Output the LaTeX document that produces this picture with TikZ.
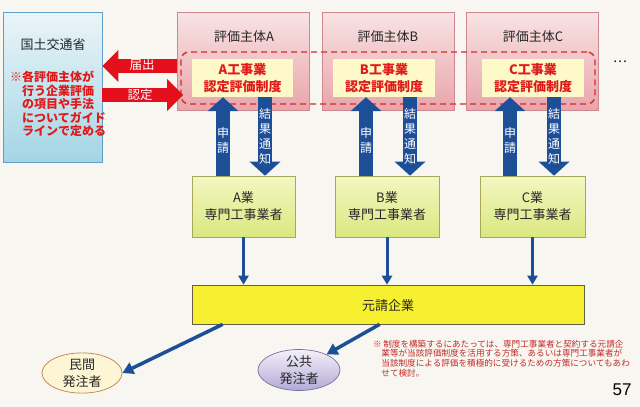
\documentclass[tikz,border=0pt]{standalone}
\usepackage{fontspec}
\setmainfont{Noto Sans CJK JP}
\newfontfamily\numfont{Liberation Sans}
\usetikzlibrary{arrows.meta,shapes.geometric}
\definecolor{bgc}{HTML}{F7F6F0}
\definecolor{mblue}{HTML}{1D4F99}
\definecolor{mred}{HTML}{E3101C}
\definecolor{tred}{HTML}{E01A1A}
\definecolor{nred}{HTML}{C42A2A}
\definecolor{dred}{HTML}{D42B2B}
\begin{document}
\begin{tikzpicture}[x=1pt,y=-1pt,
  ttl/.style={font=\fontsize{13}{17}\selectfont, text=black!85, inner sep=0pt, align=center},
  leftbox/.style={draw={rgb,255:red,96;green,160;blue,200}, line width=0.6pt, top color={rgb,255:red,234;green,245;blue,248}, bottom color={rgb,255:red,164;green,213;blue,229}, inner sep=0pt},
  evalbox/.style={draw={rgb,255:red,208;green,136;blue,144}, line width=0.6pt, top color={rgb,255:red,248;green,228;blue,228}, bottom color={rgb,255:red,233;green,164;blue,170}, inner sep=0pt, minimum width=132pt, minimum height=98pt},
  innerbox/.style={fill={rgb,255:red,253;green,249;blue,200}, inner sep=0pt, minimum height=38pt, align=center, text=tred, font=\bfseries\fontsize{13}{17}\selectfont},
  gyobox/.style={draw={rgb,255:red,168;green,168;blue,88}, line width=0.6pt, top color={rgb,255:red,243;green,247;blue,194}, bottom color={rgb,255:red,218;green,232;blue,128}, inner sep=0pt, minimum height=61pt, align=center, font=\fontsize{13}{17}\selectfont, text=black!85},
  bigblue/.style={draw=mblue, line width=13.5pt, -{Triangle[width=30pt,length=14pt]}},
  bigred/.style={draw=mred, line width=13.5pt, -{Triangle[width=31pt,length=16pt]}},
  thinblue/.style={draw=mblue, line width=3pt, -{Triangle[width=10pt,length=9pt]}},
  diagblue/.style={draw=mblue, line width=3.5pt, -{Triangle[width=12pt,length=11pt]}},
  vlab/.style={text=white, font=\fontsize{12}{15}\selectfont, align=center, inner sep=0pt},
  wlab/.style={text=white, font=\fontsize{12.5}{15}\selectfont, inner sep=0pt},
]
\fill[bgc] (0,0) rectangle (640,407);
\useasboundingbox (0,0) rectangle (640,407);

% left box
\node[leftbox, minimum width=99pt, minimum height=150pt] (mlit) at (52.5,87) {};
\node[ttl] (mlitt) at (53,45) {国土交通省};
\node[inner sep=0pt, anchor=west, align=left, text=tred, font=\bfseries\fontsize{12}{13.5}\selectfont] (mlitn) at (10,104)
  {※各評価主体が\\\hphantom{※}行う企業評価\\\hphantom{※}の項目や手法\\\hphantom{※}についてガイド\\\hphantom{※}ラインで定める};

% evaluation bodies
\node[evalbox] (evA) at (243.5,61) {};
\node[evalbox] (evB) at (388,61) {};
\node[evalbox] (evC) at (532.5,61) {};
\node[ttl] (evAt) at (244,37) {評価主体A};
\node[ttl] (evBt) at (388,37) {評価主体B};
\node[ttl] (evCt) at (533,37) {評価主体C};

\node[draw=dred, dashed, dash pattern=on 6pt off 4pt, line width=1.4pt, rounded corners=8pt, minimum width=414pt, minimum height=52pt, inner sep=0pt] (dash) at (388,78) {};

\node[innerbox, minimum width=101pt] (inA) at (242.5,78) {A工事業\\認定評価制度};
\node[innerbox, minimum width=102pt] (inB) at (384,78) {B工事業\\認定評価制度};
\node[innerbox, minimum width=102pt] (inC) at (533,78) {C工事業\\認定評価制度};

\node[inner sep=0pt, font=\fontsize{13}{15}\selectfont] (dots) at (620,62) {…};

% red arrows
\coordinate (todoke) at (0,66);
\coordinate (nintei) at (0,95);
\draw[bigred] (evA.west |- todoke) -- (mlit.east |- todoke);
\draw[bigred] (mlit.east |- nintei) -- ([xshift=6pt]evA.west |- nintei);
\node[wlab] (todokel) at (142,65) {届出};
\node[wlab] (ninteil) at (140,95) {認定};

% specialist contractors
\node[gyobox, minimum width=103pt] (gyA) at (243.5,206.5) {A業\\専門工事業者};
\node[gyobox, minimum width=104pt] (gyB) at (387,206.5) {B業\\専門工事業者};
\node[gyobox, minimum width=105pt] (gyC) at (532.5,206.5) {C業\\専門工事業者};

% blue big arrows
\coordinate (sA) at (223,0); \coordinate (kA) at (265,0);
\coordinate (sB) at (366,0); \coordinate (kB) at (410,0);
\coordinate (sC) at (510,0); \coordinate (kC) at (554,0);
\draw[bigblue] (gyA.north -| sA) -- (inA.south -| sA);
\draw[bigblue] (inA.south -| kA) -- (gyA.north -| kA);
\draw[bigblue] (gyB.north -| sB) -- (inB.south -| sB);
\draw[bigblue] (inB.south -| kB) -- (gyB.north -| kB);
\draw[bigblue] (gyC.north -| sC) -- (inC.south -| sC);
\draw[bigblue] (inC.south -| kC) -- (gyC.north -| kC);
\node[vlab] (slA) at (223,140) {申\\請};
\node[vlab] (klA) at (265,136) {結\\果\\通\\知};
\node[vlab] (slB) at (366,140) {申\\請};
\node[vlab] (klB) at (410,136) {結\\果\\通\\知};
\node[vlab] (slC) at (510,140) {申\\請};
\node[vlab] (klC) at (554,136) {結\\果\\通\\知};

% general contractor
\node[draw=black!70!yellow, line width=0.6pt, fill={rgb,255:red,247;green,240;blue,48}, minimum width=392pt, minimum height=39pt, inner sep=0pt] (gen) at (388,304.5) {};
\node[ttl] (gent) at (388,306) {元請企業};

\draw[thinblue] (gyA.south) -- (gen.north -| gyA.south);
\draw[thinblue] (gyB.south) -- (gen.north -| gyB.south);
\draw[thinblue] (gyC.south) -- (gen.north -| gyC.south);

% clients
\node[ellipse, draw={rgb,255:red,192;green,128;blue,74}, line width=0.7pt, fill={rgb,255:red,253;green,246;blue,212}, minimum width=80pt, minimum height=40pt, inner sep=0pt, align=center, font=\fontsize{13}{17}\selectfont, text=black!85] (min) at (82,373) {民間\\発注者};
\node[ellipse, draw={rgb,255:red,122;green,112;blue,160}, line width=0.7pt, top color={rgb,255:red,244;green,240;blue,249}, bottom color={rgb,255:red,178;green,170;blue,214}, minimum width=82pt, minimum height=41pt, inner sep=0pt, align=center, font=\fontsize{13}{17}\selectfont, text=black!85] (pub) at (299,370) {公共\\発注者};

\draw[diagblue] ([xshift=31pt]gen.south west) -- (min.east);
\draw[diagblue] ([xshift=188pt]gen.south west) -- (pub);

% note
\node[anchor=west, align=left, inner sep=0pt, text=nred, font=\fontsize{8.6}{9.6}\selectfont] (note) at (373,358.5)
  {※\hspace{1.5pt}制度を構築するにあたっては、専門工事業者と契約する元請企\\\hspace*{8.2pt}業等が当該評価制度を活用する方策、あるいは専門工事業者が\\\hspace*{8.2pt}当該制度による評価を積極的に受けるための方策についてもあわ\\\hspace*{8.2pt}せて検討。};

\node[inner sep=0pt, font=\numfont\fontsize{17}{17}\selectfont] (pg) at (622,390) {57};
\end{tikzpicture}
\end{document}
